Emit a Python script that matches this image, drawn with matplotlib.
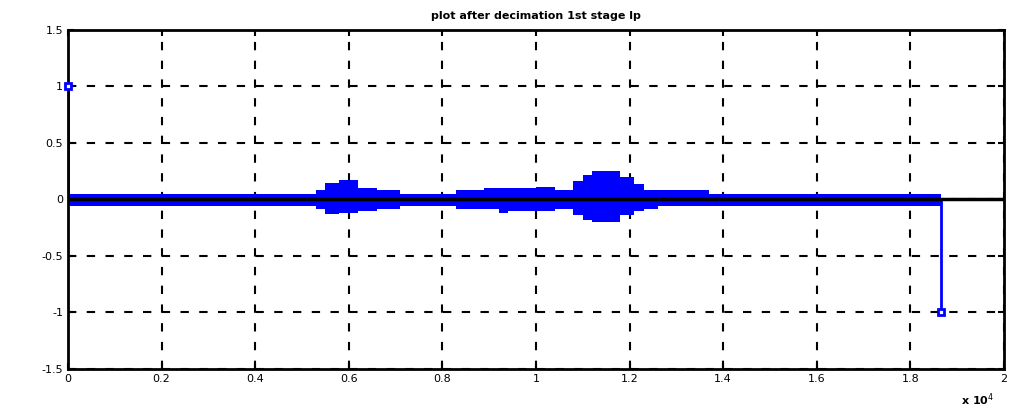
import matplotlib.pyplot as plt
import numpy as np

# Envelope of the dense stem band (x in samples)
env_x = [0, 5300, 5500, 5800, 6200, 6600, 7100, 8300, 8900, 9200, 9400, 10000,
         10400, 10800, 11000, 11200, 11800, 12100, 12300, 12600, 13700, 18650]
env_hi = [0.05, 0.08, 0.15, 0.17, 0.10, 0.08, 0.05, 0.08, 0.10, 0.10, 0.10, 0.11,
          0.08, 0.16, 0.22, 0.25, 0.20, 0.14, 0.08, 0.08, 0.05, 0.05]
env_lo = [-0.055, -0.08, -0.13, -0.12, -0.10, -0.08, -0.055, -0.08, -0.08, -0.12, -0.10, -0.10,
          -0.08, -0.14, -0.18, -0.20, -0.14, -0.10, -0.08, -0.055, -0.055, -0.055]

# The two large end samples
spike_x = [0, 18650]
spike_y = [1, -1]

xticks = [0, 2000, 4000, 6000, 8000, 10000, 12000, 14000, 16000, 18000, 20000]
xtick_labels = ['0', '0.2', '0.4', '0.6', '0.8', '1', '1.2', '1.4', '1.6', '1.8', '2']
yticks = [-1.5, -1, -0.5, 0, 0.5, 1, 1.5]
ytick_labels = ['-1.5', '-1', '-0.5', '0', '0.5', '1', '1.5']

fig = plt.figure(figsize=(10.13, 4.16), dpi=100)
fig.patch.set_facecolor('white')
ax = fig.add_axes([0.0671, 0.113, 0.924, 0.815])

blue = '#0000ff'
ax.fill_between(env_x, env_lo, env_hi, step='post', color=blue, linewidth=0, zorder=2)

ml, sl, bl = ax.stem(spike_x, spike_y, basefmt='k-')
plt.setp(sl, color=blue, linewidth=2)
plt.setp(ml, color=blue, markerfacecolor='white', markeredgecolor=blue,
         markersize=5, markeredgewidth=2, marker='s', clip_on=False, zorder=5)
plt.setp(bl, color='black', linewidth=2.5, zorder=3)
bl.set_xdata([0, 20000])

ax.set_xlim(0, 20000)
ax.set_ylim(-1.5, 1.5)
ax.set_xticks(xticks)
ax.set_xticklabels(xtick_labels)
ax.set_yticks(yticks)
ax.set_yticklabels(ytick_labels)
ax.tick_params(direction='in', length=4, width=1.5, labelsize=8, top=True, right=True)
ax.grid(True, color='black', linestyle=(0, (4, 5)), linewidth=1.5)
for s in ax.spines.values():
    s.set_linewidth(2)

ax.set_title('plot after decimation 1st stage lp', fontsize=8, fontweight='bold', pad=8)
fig.text(0.965, 0.02, r'x 10$^4$', fontsize=8, ha='center', va='bottom', fontweight='bold')

fig.savefig('out.png', dpi=100)
